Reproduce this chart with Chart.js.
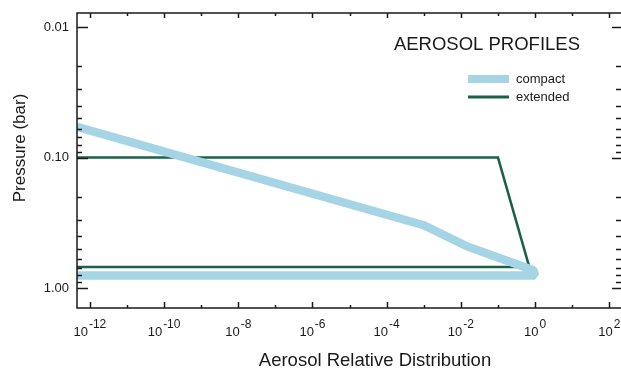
<!DOCTYPE html>
<html>
<head>
<meta charset="utf-8">
<script src="https://cdn.jsdelivr.net/npm/chart.js@4"></script>
<style>
  html, body { margin: 0; padding: 0; background: #fff; overflow: hidden; }
  canvas { display: block; }
</style>
</head>
<body>
<canvas id="profiles" width="640" height="369"></canvas>
<script>
// aerosol profiles: relative distribution vs pressure
const compactDist = [4.5e-13, 1e-3, 1.5e-2, 0.9, 1.0, 4.5e-13];
const compactPressure = [0.058, 0.33, 0.48, 0.73, 0.80, 0.80];
const extendedDist = [4.5e-13, 0.1, 0.7, 4.5e-13];
const extendedPressure = [0.1, 0.1, 0.69, 0.69];

// tick marks
const xMajorExp = [-12, -10, -8, -6, -4, -2, 0, 2];
const xMinorExp = [-11, -9, -7, -5, -3, -1, 1];
const yMajorValues = [0.01, 0.1, 1];
const yMajorLabels = ['0.01', '0.10', '1.00'];
const yMinorValues = [0.02, 0.03, 0.04, 0.05, 0.06, 0.07, 0.08, 0.09,
                      0.2, 0.3, 0.4, 0.5, 0.6, 0.7, 0.8, 0.9];

const FONT = '"Liberation Sans", Arial, Helvetica, sans-serif';
const INK = '#1a1a1a';

const toPoints = (xs, ys) => xs.map((x, i) => ({ x: x, y: ys[i] }));

// frame, inward ticks, labels, titles and legend
const decorations = {
  id: 'decorations',
  afterDraw(chart) {
    const ctx = chart.ctx;
    const xs = chart.scales.x;
    const ys = chart.scales.y;
    const { left, right, top, bottom } = chart.chartArea;

    ctx.save();
    ctx.strokeStyle = INK;
    ctx.lineWidth = 1.5;
    ctx.strokeRect(left, top, right - left, bottom - top);

    const tick = (x1, y1, x2, y2) => {
      ctx.beginPath();
      ctx.moveTo(x1, y1);
      ctx.lineTo(x2, y2);
      ctx.stroke();
    };

    xMajorExp.forEach(e => {
      const px = Math.round(xs.getPixelForValue(Math.pow(10, e))) + 0.5;
      tick(px, bottom, px, bottom - 6);
      tick(px, top, px, top + 5);
    });
    xMinorExp.forEach(e => {
      const px = Math.round(xs.getPixelForValue(Math.pow(10, e))) + 0.5;
      tick(px, bottom, px, bottom - 3);
      tick(px, top, px, top + 3);
    });
    yMajorValues.forEach(v => {
      const py = Math.round(ys.getPixelForValue(v)) + 0.5;
      tick(left, py, left + 11, py);
      tick(right, py, right - 10, py);
    });
    yMinorValues.forEach(v => {
      const py = Math.round(ys.getPixelForValue(v)) + 0.5;
      tick(left, py, left + 5, py);
      tick(right, py, right - 6, py);
    });

    ctx.fillStyle = INK;

    // y tick labels
    ctx.font = '13px ' + FONT;
    ctx.textAlign = 'right';
    ctx.textBaseline = 'middle';
    yMajorValues.forEach((v, i) => {
      ctx.fillText(yMajorLabels[i], left - 8, ys.getPixelForValue(v));
    });

    // x tick labels as 10 with a raised exponent
    ctx.textAlign = 'left';
    ctx.textBaseline = 'alphabetic';
    xMajorExp.forEach(e => {
      const px = xs.getPixelForValue(Math.pow(10, e));
      const base = '10';
      const sup = e < 0 ? '-' + Math.abs(e) : String(e);
      ctx.font = '13px ' + FONT;
      const wb = ctx.measureText(base).width;
      ctx.font = '12px ' + FONT;
      const ws = ctx.measureText(sup).width;
      const x0 = px - (wb + 1 + ws) / 2;
      ctx.font = '13px ' + FONT;
      ctx.fillText(base, x0, bottom + 28);
      ctx.font = '12px ' + FONT;
      ctx.fillText(sup, x0 + wb + 1, bottom + 20);
    });

    // axis titles
    ctx.font = '18.5px ' + FONT;
    ctx.textAlign = 'center';
    ctx.fillText('Aerosol Relative Distribution', 375, bottom + 58);

    ctx.save();
    ctx.translate(25, 148);
    ctx.rotate(-Math.PI / 2);
    ctx.font = '17px ' + FONT;
    ctx.fillText('Pressure (bar)', 0, 0);
    ctx.restore();

    // panel title
    ctx.font = '18.5px ' + FONT;
    ctx.textAlign = 'right';
    ctx.fillText('AEROSOL PROFILES', 580, 50);

    // legend
    ctx.font = '13px ' + FONT;
    ctx.textAlign = 'left';
    ctx.textBaseline = 'middle';
    chart.data.datasets.forEach((ds, i) => {
      const ly = 79 + i * 18;
      ctx.strokeStyle = ds.borderColor;
      ctx.lineWidth = i === 0 ? 8 : 3;
      tick(468, ly, 509, ly);
      ctx.fillText(ds.label, 516, ly);
    });
    ctx.restore();
  }
};

new Chart(document.getElementById('profiles'), {
  type: 'line',
  data: {
    datasets: [
      {
        label: 'compact',
        data: toPoints(compactDist, compactPressure),
        borderColor: '#a5d5e5',
        borderWidth: 8.5,
        borderJoinStyle: 'bevel',
        pointRadius: 0,
        clip: 0
      },
      {
        label: 'extended',
        data: toPoints(extendedDist, extendedPressure),
        borderColor: '#1b6049',
        borderWidth: 2.5,
        pointRadius: 0,
        clip: 0
      }
    ]
  },
  plugins: [decorations],
  options: {
    responsive: false,
    animation: false,
    parsing: false,
    layout: { padding: { left: 77, top: 13, right: 18, bottom: 61 } },
    plugins: {
      legend: { display: false },
      tooltip: { enabled: false }
    },
    scales: {
      x: {
        type: 'logarithmic',
        min: 4.5e-13,
        max: 220,
        display: false
      },
      y: {
        type: 'logarithmic',
        reverse: true,
        min: 0.0078,
        max: 1.42,
        display: false
      }
    }
  }
});
</script>
</body>
</html>
